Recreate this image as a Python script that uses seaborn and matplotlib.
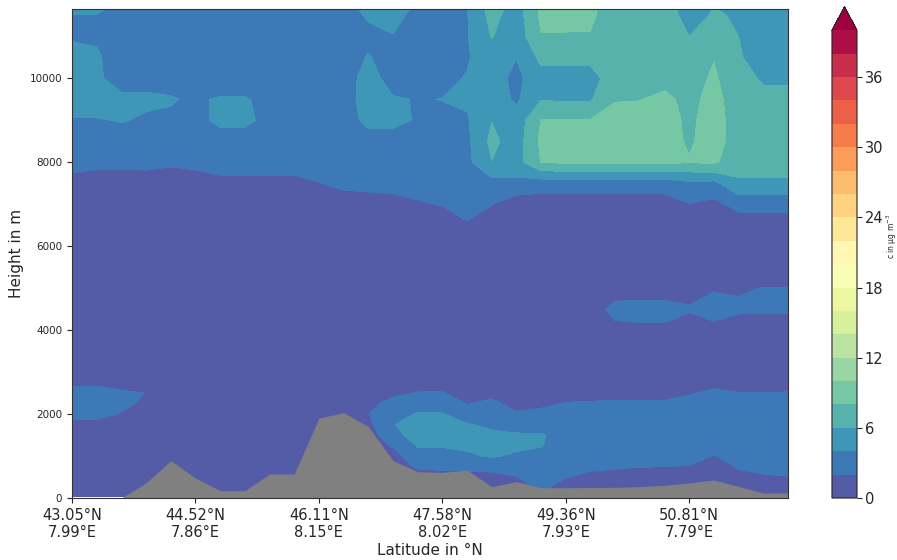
import numpy as np
import matplotlib
matplotlib.use("Agg")
import matplotlib.pyplot as plt
import seaborn as sns

# ---------------- data ----------------
heights = [40, 250, 500, 750, 1000, 1250, 1500, 1750, 2000, 2250, 2500, 2750, 3000,
           3500, 4000, 4500, 5000, 5500, 6000, 6500, 7000,
           7500, 8000, 8500, 9000, 9500, 10000, 10500, 11000, 11500, 11700]

# terrain height (m) for each of the 30 profile columns
terrain = [0, 0, 0, 360, 890, 475, 175, 175, 570, 570, 1905, 2035, 1700, 890, 627,
           610, 667, 270, 390, 245, 245, 250, 255, 270, 300, 360, 430, 275, 120, 120]

# concentration profiles (ug m-3), one list per column, bottom -> top (heights above)
conc_columns = [
    [1, 1, 1, 1, 1, 1, 1, 1.4, 2.6, 2.8, 2.6, 1.7, 1,  1, 1, 1, 1, 1, 1, 1, 1,  1.2, 2.8, 3.5, 3.9, 4.8, 5.0, 4.6, 3.8, 3.9, 4.6],
    [1, 1, 1, 1, 1, 1, 1, 1.4, 2.6, 2.8, 2.6, 1.7, 1,  1, 1, 1, 1, 1, 1, 1, 1,  1.1, 2.5, 3.4, 3.9, 4.8, 4.3, 4.2, 3.8, 3.9, 4.6],
    [1, 1, 1, 1, 1, 1, 1, 1.2, 1.9, 2.5, 2.3, 1.2, 1,  1, 1, 1, 1, 1, 1, 1, 1,  1.1, 2.5, 3.3, 4.1, 4.4, 3.2, 3.2, 3.2, 3.3, 3.4],
    [1, 1, 1, 1, 1, 1, 1, 1, 1.2, 1.6, 1.98, 1.2, 1,   1, 1, 1, 1, 1, 1, 1, 1,  1.0, 2.6, 3.3, 3.8, 4.3, 3.4, 3.2, 3.2, 3.3, 3.4],
    [1, 1, 1, 1, 1, 1, 1, 1, 1, 1, 1, 1, 1,            1, 1, 1, 1, 1, 1, 1, 1,  1.0, 2.3, 3.2, 3.8, 4.1, 3.5, 3.2, 3.2, 3.3, 3.4],
    [1, 1, 1, 1, 1, 1, 1, 1, 1, 1, 1, 1, 1,            1, 1, 1, 1, 1, 1, 1, 1,  1.0, 2.6, 3.3, 3.6, 3.8, 3.4, 3.2, 3.2, 3.4, 4.3],
    [1, 1, 1, 1, 1, 1, 1, 1, 1, 1, 1, 1, 1,            1, 1, 1, 1, 1, 1, 1, 1,  1.5, 2.8, 3.4, 4.3, 4.15, 3.0, 3.2, 3.2, 3.3, 3.4],
    [1, 1, 1, 1, 1, 1, 1, 1, 1, 1, 1, 1, 1,            1, 1, 1, 1, 1, 1, 1, 1,  1.5, 2.8, 3.4, 4.3, 4.15, 3.0, 3.2, 3.2, 3.3, 3.4],
    [1, 1, 1, 1, 1, 1, 1, 1, 1, 1, 1, 1, 1,            1, 1, 1, 1, 1, 1, 1, 1,  1.5, 2.8, 3.3, 3.6, 3.5, 3.2, 3.2, 3.2, 3.3, 3.4],
    [1, 1, 1, 1, 1, 1, 1, 1, 1, 1, 1, 1, 1,            1, 1, 1, 1, 1, 1, 1, 1,  1.5, 2.8, 3.3, 3.4, 3.4, 3.2, 3.2, 3.2, 3.3, 3.4],
    [1, 1, 1, 1, 1, 1, 1, 1, 1, 1, 1, 1, 1,            1, 1, 1, 1, 1, 1, 1, 1.0,  1.95, 2.8, 3.2, 3.3, 3.4, 3.3, 3.2, 3.2, 3.3, 3.4],
    [1, 1, 1, 1, 1, 1, 1, 1, 1, 1, 1, 1, 1,            1, 1, 1, 1, 1, 1, 1, 1.2,  2.4, 2.9, 3.2, 3.3, 3.4, 3.4, 3.3, 3.2, 3.3, 3.4],
    [1, 1, 1, 1, 1, 1, 1, 1.5, 1.9, 1.5, 1, 1, 1,      1, 1, 1, 1, 1, 1, 1, 1.3,  2.5, 3.0, 3.4, 4.4, 4.6, 4.5, 4.1, 3.6, 4.2, 4.5],
    [1, 1, 1, 1, 1.2, 2.2, 3.4, 3.9, 3.5, 2.6, 1.6, 1.0, 1,  1, 1, 1, 1, 1, 1, 1, 1.4,  2.6, 3.0, 3.5, 4.3, 4.1, 3.5, 3.3, 3.95, 4.4, 4.6],
    [1, 1, 1, 2.3, 3.4, 4.1, 4.8, 4.8, 4.1, 3.4, 2.1, 1.2, 1,  1, 1, 1, 1, 1, 1, 1, 1.8,  2.8, 3.0, 3.5, 3.9, 3.95, 3.5, 3.3, 3.5, 3.6, 3.8],
    [1, 1, 1, 2.6, 3.5, 4.1, 4.8, 4.8, 4.1, 3.4, 2.1, 1.2, 1,  1, 1, 1, 1, 1, 1, 1.0, 2.1,  3.0, 3.4, 3.6, 3.8, 4.02, 3.6, 3.4, 3.4, 3.5, 3.5],
    [1, 1, 1, 2.8, 3.7, 4.4, 4.6, 4.1, 3.0, 1.9, 1.2, 1, 1,    1, 1, 1, 1, 1, 1, 1.8, 2.8,  3.2, 3.5, 3.6, 3.8, 4.3, 4.1, 3.8, 3.9, 3.9, 3.9],
    [1, 1.0, 1.3, 2.8, 4.2, 4.5, 4.3, 3.7, 3.0, 2.4, 1.5, 1.0, 1,  1, 1, 1, 1, 1, 1, 1.0, 2.05,  3.3, 5.95, 6.5, 5.95, 5.0, 4.8, 5.2, 6.1, 6.6, 7.0],
    [1, 1.0, 1.9, 3.0, 3.7, 4.4, 4.2, 3.2, 2.2, 1.4, 1.0, 1, 1,    1, 1, 1, 1, 1, 1, 1, 0.9,  3.5, 5.2, 5.0, 4.8, 3.7, 3.5, 4.05, 4.8, 5.0, 5.2],
    [2.5, 2.5, 3.0, 3.4, 3.7, 4.05, 4.1, 3.5, 2.5, 1.6, 1.0, 1, 1,  1, 1, 1, 1, 1, 1, 1, 0.9,  3.0, 8.05, 8.4, 8.05, 5.9, 5.3, 6.5, 7.9, 8.4, 8.4],
    [1, 1.0, 2.1, 2.8, 3.2, 3.5, 3.6, 3.4, 3.0, 2.1, 1.3, 1.0, 1,  1, 1, 1, 1, 1, 1, 1, 1.0,  3.0, 8.3, 8.6, 8.1, 5.7, 5.3, 6.5, 7.9, 8.4, 8.5],
    [1, 1.0, 1.5, 2.4, 3.1, 3.4, 3.5, 3.4, 3.0, 2.2, 1.3, 1.0, 1,  1, 1, 1, 1, 1, 1, 1, 1.0,  3.0, 8.3, 8.6, 8.1, 5.8, 5.3, 6.5, 7.9, 8.3, 8.4],
    [1, 1, 1.4, 2.2, 3.0, 3.4, 3.5, 3.4, 3.0, 2.3, 1.3, 1.0, 1,    1, 1.5, 2.6, 1.0, 1, 1, 1, 1.0,  3.0, 8.4, 8.6, 8.6, 7.9, 7.0, 7.0, 7.0, 7.0, 7.0],
    [1, 1, 1.3, 2.05, 3.0, 3.4, 3.5, 3.4, 3.0, 2.3, 1.3, 1.0, 1,   1, 1.6, 2.7, 1.0, 1, 1, 1, 1.0,  3.0, 8.4, 8.6, 8.6, 7.95, 7.0, 7.0, 7.0, 7.0, 7.0],
    [1, 1, 1.3, 2.02, 3.0, 3.4, 3.5, 3.4, 3.0, 2.3, 1.3, 1.0, 1,   1, 1.6, 2.7, 1.0, 1, 1, 1, 1.0,  3.0, 8.4, 8.6, 8.6, 8.4, 7.4, 7.0, 7.0, 7.0, 7.0],
    [1, 1, 1.0, 1.9, 2.9, 3.3, 3.5, 3.5, 3.3, 2.8, 1.8, 1.0, 1,    1, 1.0, 2.2, 1.2, 1, 1, 1, 1.95,  3.6, 8.1, 7.8, 7.7, 7.5, 7.2, 7.0, 6.0, 5.2, 5.0],
    [1, 1, 1, 1.0, 1.9, 2.9, 3.4, 3.5, 3.4, 3.0, 2.4, 1.4, 1.0,    1, 1.4, 2.8, 1.8, 1.0, 1, 1, 1.5,  3.5, 8.3, 8.7, 8.7, 8.6, 8.3, 7.9, 7.0, 6.2, 6.0],
    [1, 1.0, 1.4, 2.2, 2.8, 3.2, 3.4, 3.4, 3.3, 2.9, 2.05, 1.2, 1, 1, 1.0, 2.3, 1.8, 1.0, 1, 1.0, 2.6,  5.7, 6.8, 7.2, 7.2, 7.0, 6.6, 6.2, 6.0, 5.8, 5.8],
    [1, 1.0, 1.8, 2.5, 3.0, 3.3, 3.4, 3.4, 3.3, 2.9, 2.05, 1.2, 1, 1, 1.0, 2.3, 2.05, 1.0, 1, 1.0, 2.6,  5.8, 6.6, 6.6, 6.6, 6.4, 5.8, 5.0, 4.8, 4.3, 3.8],
    [1, 1.0, 1.95, 2.6, 3.0, 3.3, 3.4, 3.4, 3.3, 2.9, 2.1, 1.2, 1, 1, 1.0, 2.3, 2.05, 1.0, 1, 1.0, 2.6,  5.8, 6.6, 6.6, 6.6, 6.4, 5.8, 5.0, 4.8, 4.3, 3.8],
]

tick_positions = [0, 5, 10, 15, 20, 25]
tick_labels = ["43.05°N\n7.99°E", "44.52°N\n7.86°E", "46.11°N\n8.15°E",
               "47.58°N\n8.02°E", "49.36°N\n7.93°E", "50.81°N\n7.79°E"]
levels = np.arange(0, 42, 2)
cbar_ticks = [0, 6, 12, 18, 24, 30, 36]

# ---------------- plot ----------------
sns.set_style("ticks")
plt.rcParams["font.family"] = ["DejaVu Sans"]

x = np.arange(len(conc_columns))
Z = np.array(conc_columns, dtype=float).T
assert Z.shape == (len(heights), len(x))

cmap = sns.color_palette("Spectral_r", as_cmap=True)

fig = plt.figure(figsize=(8.97, 5.6), dpi=100)
ax = fig.add_axes([0.0803, 0.1107, 0.7982, 0.8733])
cax = fig.add_axes([0.9275, 0.1107, 0.0279, 0.877])

cs = ax.contourf(x, heights, Z, levels=levels, cmap=cmap, extend="max", zorder=1)
ax.fill_between(x, 0, terrain, color="#808080", linewidth=0, zorder=2)

ax.set_xlim(0, len(x) - 1)
ax.set_ylim(0, 11650)
ax.set_xticks(tick_positions)
ax.set_xticklabels(tick_labels, fontsize=10.5)
ax.set_yticks(np.arange(0, 12000, 2000))
ax.tick_params(axis="y", labelsize=7.5)
ax.set_xlabel("Latitude in °N", fontsize=11, labelpad=2)
ax.set_ylabel("Height in m", fontsize=11)
for s in ax.spines.values():
    s.set_visible(True)
    s.set_color("#333333")
    s.set_linewidth(0.8)

cb = fig.colorbar(cs, cax=cax, ticks=cbar_ticks)
cb.ax.tick_params(labelsize=10.5, pad=2)
cb.outline.set_linewidth(0.8)
fig.text(891.5 / 897, 1 - 236 / 560, "c in µg m$^{-3}$", fontsize=5.5,
         rotation=90, ha="center", va="center")

fig.savefig("out.png", dpi=100)
